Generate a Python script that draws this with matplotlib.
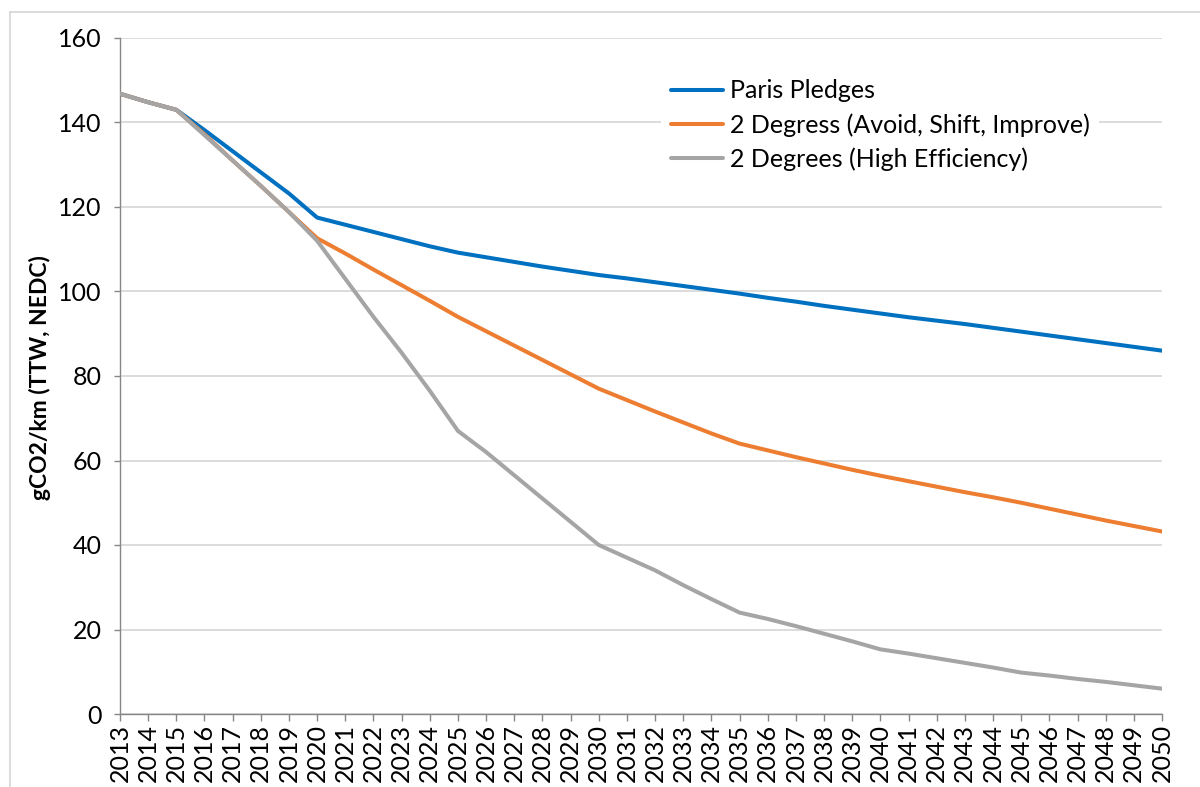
import matplotlib
matplotlib.use("Agg")
import matplotlib.pyplot as plt
from matplotlib.lines import Line2D

years = list(range(2013, 2051))

paris_pledges = [146.8, 144.8, 143.0, 138.2, 133.2, 128.2, 123.2, 117.5, 115.8, 114.1,
                 112.4, 110.7, 109.2, 108.1, 107.0, 105.9, 104.9, 103.9, 103.1, 102.2,
                 101.3, 100.4, 99.5, 98.5, 97.6, 96.6, 95.7, 94.8, 93.9, 93.1,
                 92.3, 91.4, 90.5, 89.6, 88.7, 87.8, 86.9, 86.0]

two_deg_asi = [146.8, 144.8, 143.0, 137.2, 131.0, 125.0, 118.8, 112.6, 109.0, 105.2,
               101.5, 97.8, 94.0, 90.6, 87.2, 83.8, 80.4, 77.0, 74.3, 71.6,
               69.0, 66.4, 64.0, 62.4, 60.8, 59.3, 57.8, 56.4, 55.1, 53.8,
               52.5, 51.3, 50.0, 48.6, 47.2, 45.8, 44.5, 43.2]

two_deg_he = [146.8, 144.8, 143.0, 137.0, 131.0, 125.0, 118.8, 112.0, 103.0, 94.0,
              85.5, 76.5, 67.0, 62.0, 56.5, 51.0, 45.5, 40.0, 37.0, 34.0,
              30.5, 27.2, 24.0, 22.5, 20.8, 19.0, 17.2, 15.3, 14.3, 13.2,
              12.1, 11.0, 9.8, 9.1, 8.3, 7.6, 6.8, 6.0]

series_labels = ["Paris Pledges", "2 Degress (Avoid, Shift, Improve)", "2 Degrees (High Efficiency)"]
series_colors = ["#0070C0", "#ED7D31", "#A5A5A5"]
y_ticks = [0, 20, 40, 60, 80, 100, 120, 140, 160]
y_label = "gCO2/km (TTW, NEDC)"

plt.rcParams['font.family'] = ['Lato', 'DejaVu Sans']

W, H = 1200, 787
fig = plt.figure(figsize=(W / 100, H / 100), dpi=100)
ax = fig.add_axes([120 / W, 1 - 714 / H, (1162 - 120) / W, (714 - 38) / H])

for vals, lab, col in zip([paris_pledges, two_deg_asi, two_deg_he], series_labels, series_colors):
    ax.plot(years, vals, color=col, lw=2.9, label=lab, solid_capstyle='round', solid_joinstyle='round', zorder=3)

ax.set_xlim(2013, 2050)
ax.set_ylim(0, 160)
ax.set_yticks(y_ticks)
ax.set_xticks(years)
ax.set_xticklabels([str(y) for y in years], rotation=90)
ax.tick_params(axis='x', labelsize=18, length=5, width=1, color='#868686', pad=2)
ax.tick_params(axis='y', labelsize=18, length=4.3, width=1, color='#868686', pad=9)
ax.yaxis.grid(True, color='#D9D9D9', lw=1.3)
ax.set_axisbelow(True)
for s in ['top', 'right']:
    ax.spines[s].set_visible(False)
for s in ['left', 'bottom']:
    ax.spines[s].set_color('#868686')
    ax.spines[s].set_linewidth(1.0)

fig.text(40 / W, 1 - 378 / H, y_label, rotation=90, fontsize=16.5, fontweight='bold',
         ha='center', va='center')

leg = ax.legend(loc='upper left', bbox_to_anchor=((648 - 120) / (1162 - 120), (714 - 57) / (714 - 38)),
                fontsize=18, frameon=True, handlelength=2.08, handletextpad=0.28,
                labelspacing=0.43, borderpad=0.4, fancybox=False)
leg.get_frame().set_facecolor('white')
leg.get_frame().set_edgecolor('none')
leg.get_frame().set_alpha(1)

# chart area border (partially visible)
fig.add_artist(Line2D([10 / W, 10 / W], [0, 1 - 12 / H], transform=fig.transFigure, color='#D9D9D9', lw=1.3))
fig.add_artist(Line2D([10 / W, 1], [1 - 12 / H, 1 - 12 / H], transform=fig.transFigure, color='#D9D9D9', lw=1.3))

fig.savefig('out.png', dpi=100)
